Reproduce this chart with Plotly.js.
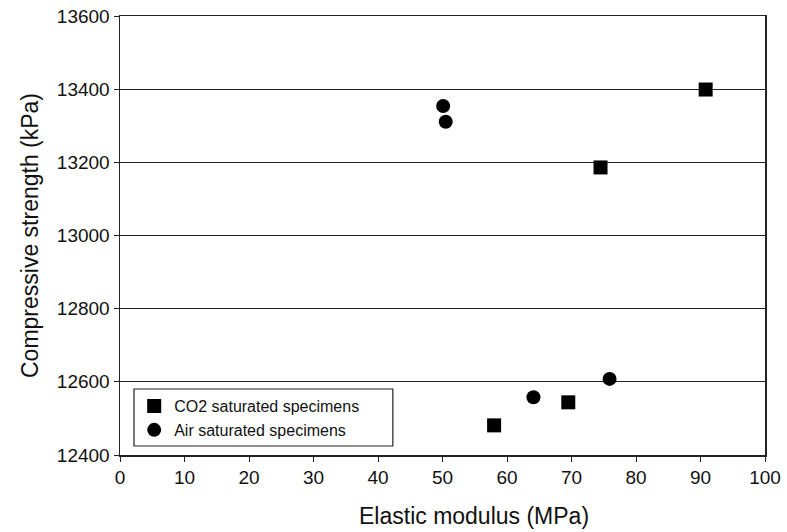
<!DOCTYPE html>
<html>
<head>
<meta charset="utf-8">
<script src="https://cdn.plot.ly/plotly-3.0.1.min.js"></script>
<style>html,body{margin:0;padding:0;background:#fff;}#chart{width:787px;height:532px;}</style>
</head>
<body>
<div id="chart"></div>
<script>
var co2Modulus = [58.0, 69.5, 74.5, 90.8];
var co2Strength = [12481, 12544, 13186, 13399];
var airModulus = [50.1, 50.5, 64.1, 75.9];
var airStrength = [13354, 13311, 12558, 12608];
var seriesNames = ["CO2 saturated specimens", "Air saturated specimens"];
var xTitle = "Elastic modulus (MPa)";
var yTitle = "Compressive strength (kPa)";

var font = "'Liberation Sans', Arial, sans-serif";
var traces = [
  {x: co2Modulus, y: co2Strength, name: seriesNames[0], mode: "markers", type: "scatter",
   marker: {symbol: "square", size: 14, color: "#000"}},
  {x: airModulus, y: airStrength, name: seriesNames[1], mode: "markers", type: "scatter",
   marker: {symbol: "circle", size: 14, color: "#000"}}
];
var layout = {
  width: 787, height: 532,
  margin: {l: 120, r: 22, t: 16, b: 77},
  paper_bgcolor: "#fff", plot_bgcolor: "#fff",
  font: {family: font, color: "#111", size: 19},
  showlegend: true,
  legend: {x: 0.022, y: 0.15, xanchor: "left", yanchor: "top",
           borderwidth: 0, bgcolor: "rgba(0,0,0,0)",
           font: {size: 16, family: font, color: "#111"}, itemwidth: 30},
  shapes: [{type: "rect", xref: "paper", yref: "paper", x0: 0.0217, x1: 0.423, y0: 0.0205, y1: 0.1503,
            line: {color: "#222", width: 1.2}, fillcolor: "#fff", layer: "above"}],
  xaxis: {range: [0, 100], dtick: 10, tick0: 0, ticks: "outside", ticklen: 5, tickcolor: "#222",
          showline: true, linecolor: "#222", linewidth: 1.5, mirror: true, showgrid: false, zeroline: false,
          tickfont: {size: 19, family: font}, tickformat: "d"},
  yaxis: {range: [12400, 13600], dtick: 200, tick0: 12400, ticks: "outside", ticklen: 5, tickcolor: "#222",
          showline: true, linecolor: "#222", linewidth: 1.5, mirror: true, showgrid: true, gridcolor: "#222", gridwidth: 1.3,
          zeroline: false, tickfont: {size: 19, family: font}, tickformat: "d",
          title: {text: yTitle, font: {size: 23, family: font}, standoff: 12}},
  annotations: [{text: xTitle, xref: "paper", yref: "paper", x: 0.549, y: -0.14,
                 xanchor: "center", yanchor: "middle", showarrow: false,
                 font: {size: 23, family: font, color: "#111"}}]
};
Plotly.newPlot("chart", traces, layout, {displayModeBar: false, staticPlot: true});
</script>
</body>
</html>
